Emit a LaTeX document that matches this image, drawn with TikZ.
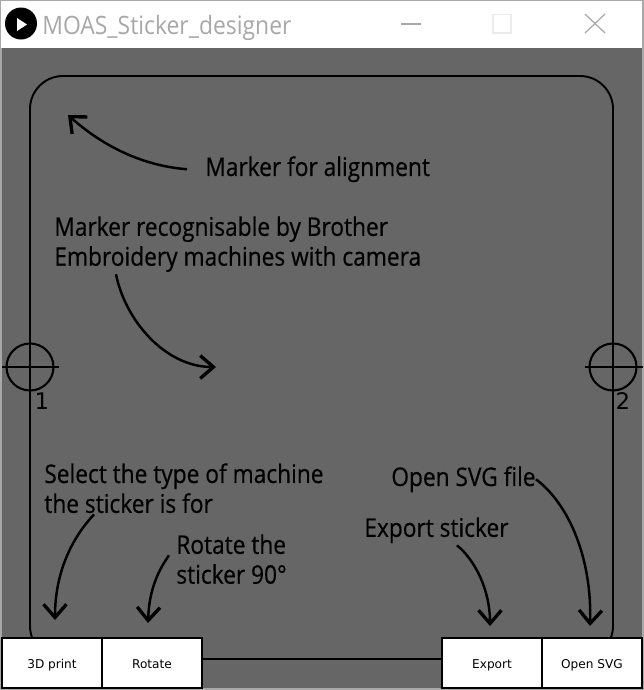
\documentclass[tikz,border=0pt]{standalone}
\usepackage{fontspec}
\setmainfont{Open Sans}
\newfontfamily\buttonfont{DejaVu Sans}
\newfontfamily\notefont[FakeStretch=0.885,FakeBold=0.5]{Open Sans}
\newfontfamily\titlefont[FakeStretch=0.905]{Open Sans}
\usepackage{xcolor}
\usetikzlibrary{arrows.meta, positioning}
\definecolor{panelgray}{HTML}{666666}
\definecolor{framegray}{HTML}{A8A8A8}
\tikzset{
    note/.style={align=left,inner sep=0pt,anchor=north west,font=\notefont\fontsize{14.6}{17}\selectfont,text=black},
    pointer/.style={-{Straight Barb[length=7.5pt,width=13pt,line width=1.9pt]},line width=1.4pt,black},
    cross/.style={line width=1.2pt,black},
    btn/.style={draw=black,fill=white,line width=0.6pt,minimum width=100*0.02cm,minimum height=50*0.02cm,inner sep=0pt,outer sep=0pt,
        text height=6.8pt,text depth=0pt,font=\buttonfont\fontsize{6.9}{9}\selectfont},
    winbtn/.style={line width=0.7pt,framegray}
}
\begin{document}
\begin{tikzpicture}[x=0.02cm,y=-0.02cm]
    \useasboundingbox (0,0) rectangle (644,690);
    % Finestra
    \fill[framegray] (0,0) rectangle (644,690);
    \fill[white] (1,1) rectangle (642,48);
    \fill[panelgray] (2,48) rectangle (642,688);

    % Barra del titolo
    \node[circle,fill=black,minimum size=32*0.02cm,inner sep=0pt] (icon) at (21,23.5) {};
    \fill[white] (17,18) -- (27,24.5) -- (17,31) -- cycle;
    \node[anchor=west,inner sep=0pt,text=framegray,font=\titlefont\fontsize{14.4}{17}\selectfont] (title) at (42,28) {MOAS\_Sticker\_designer};
    \draw[winbtn] (401,24) -- (421,24);
    \draw[draw=black!8,line width=0.8pt] (493,14.5) rectangle (511,33);
    \draw[winbtn] (585,14) -- (605,33) (605,14) -- (585,33);

    % Adesivo
    \draw[line width=1.1pt,rounded corners=33*0.02cm] (30,76) rectangle (613,659);

    % Marcatori
    \node[circle,draw,cross,minimum size=47*0.02cm,inner sep=0pt] (markerone) at (30,367) {};
    \draw[cross] (2,367) -- (59,367);
    \node[circle,draw,cross,minimum size=47*0.02cm,inner sep=0pt] (markertwo) at (613,367) {};
    \draw[cross] (585,367) -- (643,367);
    \node[inner sep=0pt,font=\buttonfont\fontsize{13}{15}\selectfont] (numone) at (42,401) {1};
    \node[inner sep=0pt,font=\buttonfont\fontsize{13}{15}\selectfont] (numtwo) at (623,401) {2};

    % Testi
    \node[note] (align) at (205,156) {Marker for alignment};
    \node[note] (brother) at (54,216) {Marker recognisable by Brother\\Embroidery machines with camera};
    \node[note] (machine) at (44,463) {Select the type of machine\\the sticker is for};
    \node[note] (rotate) at (176,534) {Rotate the\\sticker 90°};
    \node[note] (svg) at (391,466) {Open SVG file};
    \node[note] (sticker) at (364,517) {Export sticker};

    % Pulsanti
    \node[btn] (print) at (52,663) {3D print};
    \node[btn,right=0pt of print] (turn) {Rotate};
    \node[btn] (export) at (492,663) {Export};
    \node[btn,right=0pt of export] (open) {Open SVG};

    % Frecce
    \coordinate (aligntip) at (68,115);
    \coordinate (cameratip) at (216,367);
    \coordinate (printtip) at (55,620);
    \coordinate (turntip) at (148,623);
    \coordinate (exporttip) at (490,626);
    \coordinate (opentip) at (590,626);
    \draw[pointer] ([xshift=-18*0.02cm]align.west) .. controls (145,166) and (105,148) .. (aligntip);
    \draw[pointer] ([xshift=62*0.02cm,yshift=-2*0.02cm]brother.south west) .. controls (125,320) and (165,367) .. (cameratip);
    \draw[pointer] ([xshift=50*0.02cm,yshift=-1*0.02cm]machine.south west) .. controls (70,540) and (55,575) .. (printtip);
    \draw[pointer] ([xshift=-7*0.02cm,yshift=29*0.02cm]rotate.south west) .. controls (155,575) and (149,595) .. (turntip);
    \draw[pointer] ([xshift=93*0.02cm,yshift=-2*0.02cm]sticker.south west) .. controls (475,560) and (490,590) .. (exporttip);
    \draw[pointer] (svg.east) .. controls (570,505) and (592,560) .. (opentip);
\end{tikzpicture}
\end{document}
